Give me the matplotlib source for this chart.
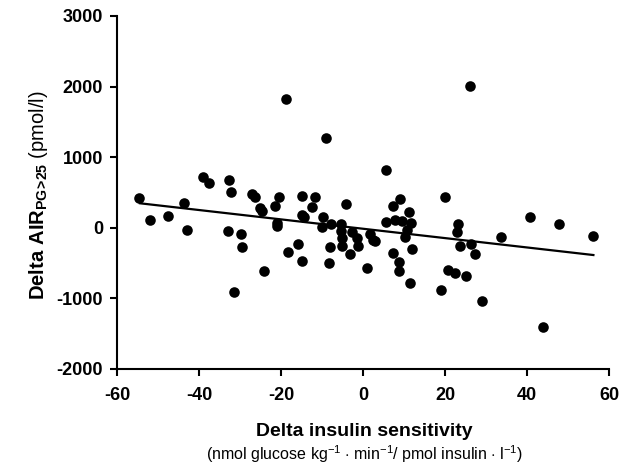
import matplotlib
matplotlib.use('Agg')
import matplotlib.pyplot as plt

plt.rcParams['font.family'] = ['Liberation Sans', 'DejaVu Sans']
plt.rcParams['mathtext.fontset'] = 'custom'
plt.rcParams['mathtext.rm'] = 'Liberation Sans'
plt.rcParams['mathtext.bf'] = 'Liberation Sans:bold'
plt.rcParams['axes.unicode_minus'] = False

# change in insulin sensitivity vs change in AIR
delta_si = [-54.6, -52.0, -47.5, -43.7, -43.0, -39.0, -37.6, -32.9, -32.6, -32.2,
            -31.5, -29.8, -29.5, -27.0, -26.4, -25.0, -24.6, -24.2, -21.5, -21.0,
            -20.9, -20.6, -18.7, -18.2, -15.8, -14.8, -14.8, -14.9, -14.3, -12.5,
            -11.8, -9.8, -10.1, -9.0, -8.2, -8.0, -7.9, -5.4, -5.4, -5.2,
            -5.0, -4.1, -3.2, -2.8, -1.4, -1.2, 1.0, 1.7, 2.5, 3.0,
            5.5, 5.5, 7.2, 7.4, 7.8, 8.9, 8.9, 9.0, 9.4, 10.2,
            10.7, 11.2, 11.6, 11.5, 12.0, 19.1, 20.1, 20.7, 22.4, 23.1,
            22.9, 23.7, 25.2, 26.1, 26.3, 27.3, 29.1, 33.7, 40.8, 43.9,
            47.8, 56.2]
delta_air = [419, 110, 161, 347, -33, 719, 639, -43, 672, 500,
             -905, -86, -271, 482, 433, 282, 233, -610, 310, 71,
             24, 433, 1829, -343, -224, 453, -476, 176, 147, 296,
             429, 147, 14, 1272, -504, -271, 57, 53, -43, -257,
             -147, 343, -367, -53, -139, -262, -576, -90, -176, -190,
             814, 86, 310, -357, 110, -482, -619, 414, 100, -129,
             -33, 219, 61, -776, -296, -886, 429, -596, -647, 53,
             -53, -262, -690, 2005, -233, -367, -1033, -129, 147, -1400,
             53, -110]

# regression line end points
fit_x = [-54.4, 56.2]
fit_y = [347, -386]

fig = plt.figure(figsize=(6.31, 4.66), dpi=100)
ax = fig.add_axes([0.1854, 0.2082, 0.7797, 0.7575])

ax.scatter(delta_si, delta_air, s=58, color='black', zorder=3, linewidths=0)
ax.plot(fit_x, fit_y, color='black', linewidth=1.6, zorder=2)

ax.set_xlim(-60, 60)
ax.set_ylim(-2000, 3000)
ax.set_xticks(range(-60, 61, 20))
ax.set_yticks(range(-2000, 3001, 1000))

for side in ['top', 'right']:
    ax.spines[side].set_visible(False)
for side in ['left', 'bottom']:
    ax.spines[side].set_linewidth(1.5)
ax.tick_params(direction='out', length=5, width=1.5, labelsize=13)
ax.tick_params(axis='x', pad=8)
ax.tick_params(axis='y', pad=5)
for lbl in ax.get_xticklabels() + ax.get_yticklabels():
    lbl.set_fontweight('bold')

ax.set_ylabel(r'$\mathbf{Delta\ AIR}_{\mathbf{PG\!>\!25}}$ (pmol/l)', fontsize=14.5)
ax.yaxis.set_label_coords(-0.136, 0.493)
fig.text(0.578, 0.073, 'Delta insulin sensitivity', ha='center', va='center',
         fontsize=14, fontweight='bold')
fig.text(0.577, 0.025,
         r'(nmol glucose kg$^{-1}$ $\cdot$ min$^{-1}$/ pmol insulin $\cdot$ l$^{-1}$)',
         ha='center', va='center', fontsize=11.5)

fig.savefig('out.png', dpi=100)
